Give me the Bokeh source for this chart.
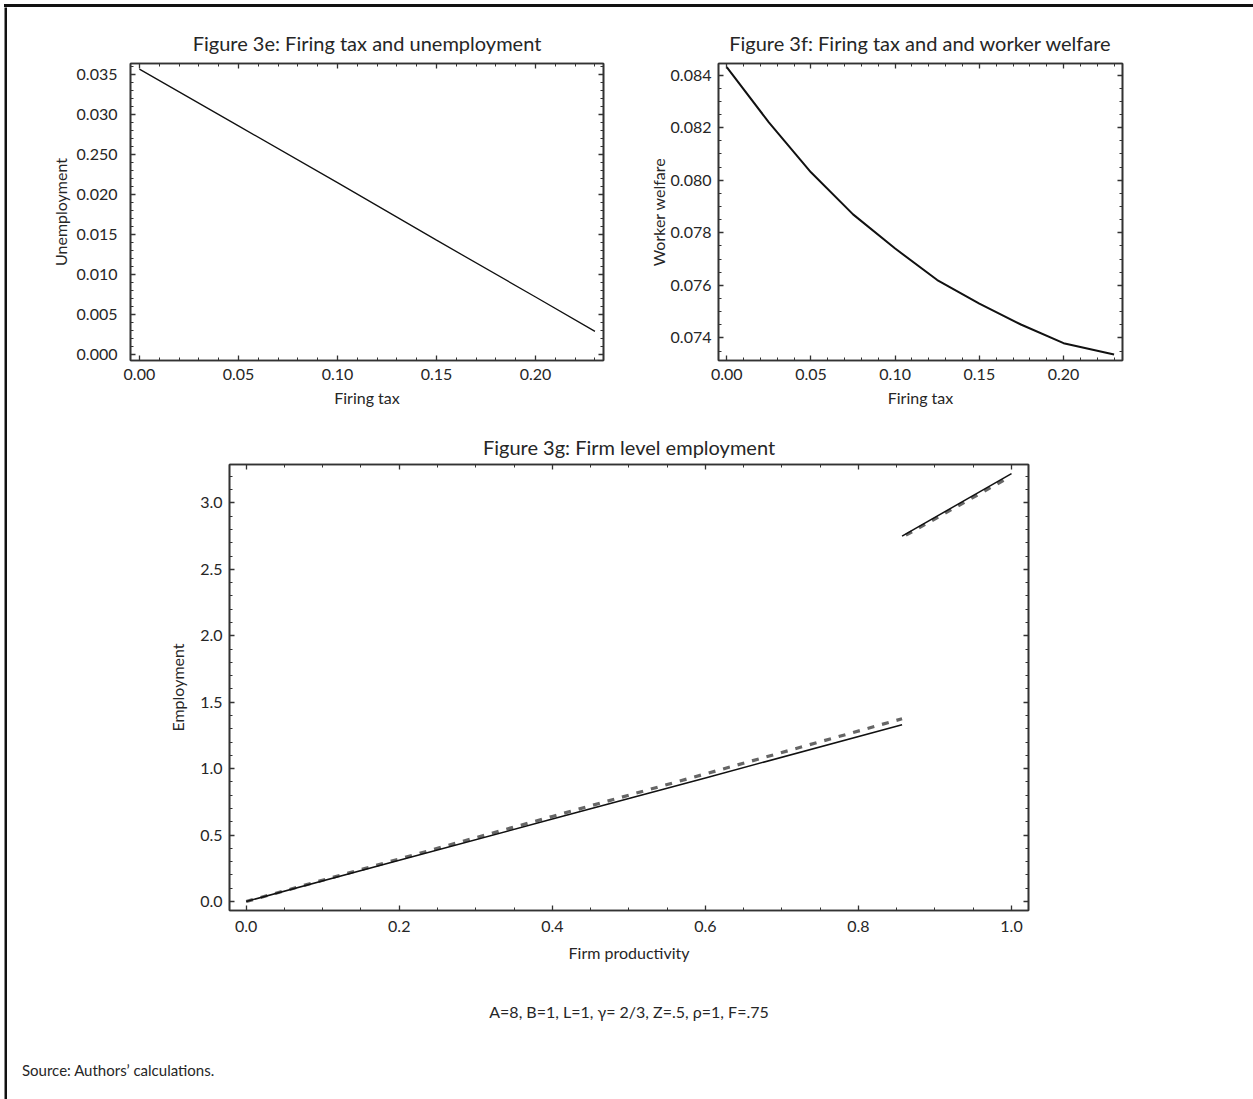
import numpy as np
from bokeh.plotting import figure
from bokeh.models import FixedTicker, LinearAxis, Range1d, Div, Spacer
from bokeh.layouts import column, row
from bokeh.embed import file_html
from bokeh.resources import INLINE

FONT = "Lato"
TXT = "#262626"
AX = "#333333"

# ---------------- data ----------------
# Figure 3e
tax_e = [0.0, 0.05, 0.10, 0.15, 0.20, 0.23]
unemployment = [0.0357, 0.0286, 0.0215, 0.0143, 0.0072, 0.0029]
e_xticks = [0.0, 0.05, 0.10, 0.15, 0.20]
e_xlabels = ["0.00", "0.05", "0.10", "0.15", "0.20"]
e_yticks = [0.0, 0.005, 0.010, 0.015, 0.020, 0.025, 0.030, 0.035]
e_ylabels = ["0.000", "0.005", "0.010", "0.015", "0.020", "0.250", "0.030", "0.035"]

# Figure 3f
tax_f = [0.0, 0.025, 0.05, 0.075, 0.10, 0.125, 0.15, 0.175, 0.20, 0.23]
welfare = [0.0843, 0.0822, 0.0803, 0.0787, 0.0774, 0.0762, 0.0753, 0.0745, 0.0738, 0.07337]
f_xticks = [0.0, 0.05, 0.10, 0.15, 0.20]
f_xlabels = ["0.00", "0.05", "0.10", "0.15", "0.20"]
f_yticks = [0.074, 0.076, 0.078, 0.080, 0.082, 0.084]
f_ylabels = ["0.074", "0.076", "0.078", "0.080", "0.082", "0.084"]

# Figure 3g
prod_low = [0.0, 0.2, 0.4, 0.6, 0.857]
emp_low_solid = [0.0, 0.31, 0.62, 0.93, 1.33]
emp_low_dash = [0.0, 0.32, 0.64, 0.96, 1.375]
prod_high = [0.857, 1.0]
emp_high_solid = [2.75, 3.22]
prod_high_dash = [0.862, 0.995]
emp_high_dash = [2.757, 3.187]
g_xticks = [0.0, 0.2, 0.4, 0.6, 0.8, 1.0]
g_xlabels = ["0.0", "0.2", "0.4", "0.6", "0.8", "1.0"]
g_yticks = [0.0, 0.5, 1.0, 1.5, 2.0, 2.5, 3.0]
g_ylabels = ["0.0", "0.5", "1.0", "1.5", "2.0", "2.5", "3.0"]

PARAMS = "A=8, B=1, L=1, γ= 2/3, Z=.5, ρ=1, F=.75"
SOURCE = "Source: Authors’ calculations."


def minors(ticks, n, lo, hi):
    step = (ticks[1] - ticks[0]) / n
    start = ticks[0] - 10 * step
    vals = [start + i * step for i in range(int((hi - start) / step) + 2)]
    return [v for v in vals if lo <= v <= hi]


def style_axis(ax, ticks, labels, minor, show=True):
    ax.ticker = FixedTicker(ticks=ticks, minor_ticks=minor)
    ax.major_label_overrides = {t: l for t, l in zip(ticks, labels)}
    ax.axis_line_color = AX
    ax.axis_line_width = 1.6
    ax.major_tick_line_color = AX
    ax.minor_tick_line_color = AX
    ax.major_tick_line_width = 1.3
    ax.minor_tick_line_width = 1.0
    ax.major_tick_in = 5
    ax.major_tick_out = 0
    ax.minor_tick_in = 3
    ax.minor_tick_out = 0
    ax.major_label_text_font = FONT
    ax.major_label_text_font_size = "16px" if show else "0px"
    ax.major_label_text_color = TXT
    if not show:
        ax.major_label_text_alpha = 0
    ax.axis_label_text_font = FONT
    ax.axis_label_text_font_size = "16px"
    ax.axis_label_text_font_style = "normal"
    ax.axis_label_text_color = TXT


def make_fig(w, h, bl, br, bt, bb, xr, yr, title, tstand, xt, xl, xm, yt, yl, ym,
             xlabel, ylabel, xstand, ystand, xls, yls):
    p = figure(width=w, height=h, x_range=Range1d(*xr), y_range=Range1d(*yr),
               output_backend="svg", toolbar_location=None,
               min_border_left=bl, min_border_right=br,
               min_border_top=bt, min_border_bottom=bb, title=title)
    p.title.text_font = FONT
    p.title.text_font_size = "20px"
    p.title.text_font_style = "normal"
    p.title.text_color = TXT
    p.title.align = "center"
    p.title.standoff = tstand
    p.xgrid.visible = False
    p.ygrid.visible = False
    p.outline_line_color = AX
    p.outline_line_width = 1.6
    p.background_fill_color = "white"
    p.border_fill_color = "white"
    style_axis(p.xaxis[0], xt, xl, xm)
    style_axis(p.yaxis[0], yt, yl, ym)
    p.xaxis[0].axis_label = xlabel
    p.yaxis[0].axis_label = ylabel
    p.xaxis[0].major_label_standoff = xstand
    p.yaxis[0].major_label_standoff = ystand
    p.xaxis[0].axis_label_standoff = xls
    p.yaxis[0].axis_label_standoff = yls
    top = LinearAxis()
    style_axis(top, xt, xl, xm, show=False)
    right = LinearAxis()
    style_axis(right, yt, yl, ym, show=False)
    p.add_layout(top, "above")
    p.add_layout(right, "right")
    return p


def bar(w, h, left=0, top=0):
    b = figure(width=w, height=h, output_backend="svg", toolbar_location=None,
               title=None, x_axis_location=None, y_axis_location=None,
               min_border_left=left, min_border_top=top,
               min_border_right=0, min_border_bottom=0,
               background_fill_color="#111111", border_fill_color="white",
               outline_line_color=None)
    b.xgrid.visible = False
    b.ygrid.visible = False
    return b


# ---- 3e ----
e_xr = (-0.0045, 0.2343)
e_yr = (-0.00075, 0.0364)
p1 = make_fig(613, 413, 123, 17, 56, 60, e_xr, e_yr,
              "Figure 3e: Firing tax and unemployment", 18,
              e_xticks, e_xlabels, minors(e_xticks, 5, *e_xr),
              e_yticks, e_ylabels, minors(e_yticks, 5, *e_yr),
              "Firing tax", "Unemployment", 8, 13, 5, 4)
p1.line(tax_e, unemployment, line_color="#111111", line_width=1.3)

# ---- 3f ----
f_xr = (-0.0049, 0.235)
f_yr = (0.07314, 0.08444)
p2 = make_fig(522, 413, 98, 20, 56, 60, f_xr, f_yr,
              "Figure 3f: Firing tax and and worker welfare", 18,
              f_xticks, f_xlabels, minors(f_xticks, 5, *f_xr),
              f_yticks, f_ylabels, minors(f_yticks, 4, *f_yr),
              "Firing tax", "Worker welfare", 8, 7, 5, 0)
p2.line(tax_f, welfare, line_color="#111111", line_width=2)

# ---- 3g ----
g_xr = (-0.0218, 1.0222)
g_yr = (-0.068, 3.289)
p3 = make_fig(1051, 550, 222, 30, 44, 60, g_xr, g_yr,
              "Figure 3g: Firm level employment", 11,
              g_xticks, g_xlabels, minors(g_xticks, 4, *g_xr),
              g_yticks, g_ylabels, minors(g_yticks, 5, *g_yr),
              "Firm productivity", "Employment", 10, 7, 8, 10)
p3.line(prod_low, emp_low_dash, line_color="#666666", line_width=3.2, line_dash="7 8")
p3.line(prod_high_dash, emp_high_dash, line_color="#666666", line_width=3.2, line_dash="7 8")
p3.line(prod_low, emp_low_solid, line_color="#111111", line_width=1.5)
p3.line(prod_high, emp_high_solid, line_color="#111111", line_width=1.5)

params_div = Div(
    text=f'<div style="width:1244px;text-align:center;font-family:Lato;font-size:16px;'
         f'color:{TXT};padding-top:32px;line-height:20px">{PARAMS}</div>',
    width=1244, height=70, margin=0)
source_div = Div(
    text=f'<div style="font-family:Lato;font-size:15px;color:{TXT};'
         f'padding-top:20px;padding-left:15px;line-height:20px">{SOURCE}</div>',
    width=1244, height=52, margin=0)

content = column(row(p1, p2), p3, params_div, source_div)

top_bar = Div(width=1253, height=7, margin=0,
              styles={"position": "relative", "overflow": "visible"},
              text='<div style="position:absolute;top:4px;left:4px;width:1249px;'
                   'height:3px;background:#111111;font-size:0;line-height:0"></div>')
left_bar = bar(7, 1092, left=4, top=0)

layout = column(top_bar, row(left_bar, content))

open("out.html", "w").write(file_html(layout, INLINE))
